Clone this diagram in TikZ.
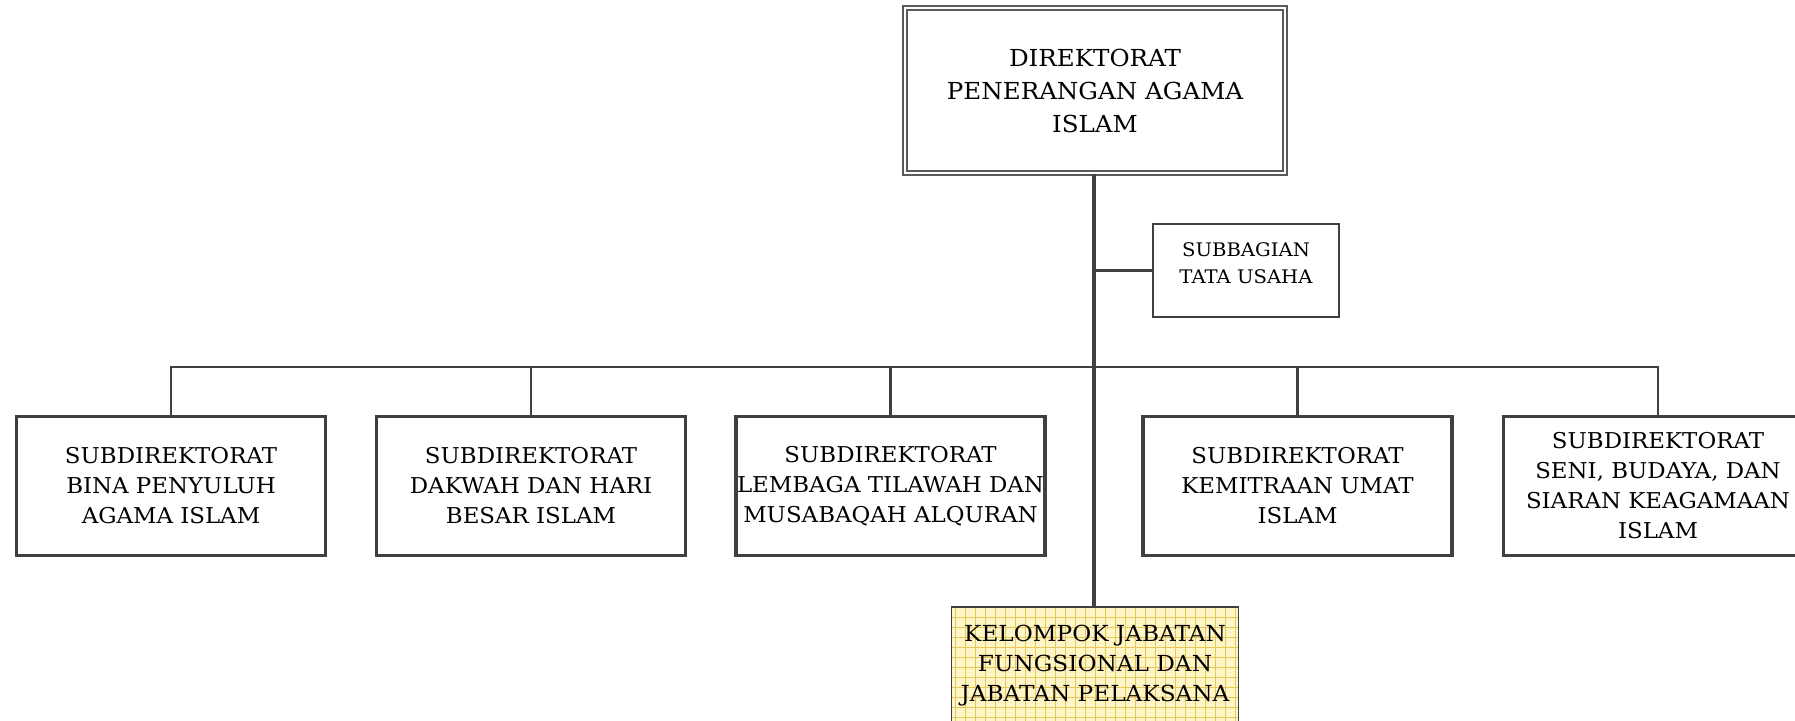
\documentclass[tikz,border=0pt]{standalone}
\usepackage{fontspec}
\setmainfont{DejaVu Serif}[FakeStretch=1.05]
\definecolor{linec}{HTML}{404040}
\definecolor{dblc}{HTML}{5A5A5A}
\definecolor{gridfill}{HTML}{FFF6C8}
\definecolor{gridline}{HTML}{E8C658}
\tikzset{
  subbox/.style={draw=linec, line width=3.2pt, fill=white, minimum width=309pt, minimum height=139pt, align=center, inner sep=0pt,
    font=\fontsize{21.8}{30}\selectfont},
  topbox/.style={draw=dblc, line width=1.3pt, double=white, double distance=2.6pt, fill=white, minimum width=380pt, minimum height=165pt, inner sep=0pt},
  smallbox/.style={draw=linec, line width=2.4pt, fill=white, minimum width=186pt, minimum height=93pt, inner sep=0pt},
  gridbox/.style={draw=linec, line width=1.6pt, fill=gridfill, minimum width=287pt, minimum height=140pt, inner sep=0pt,
    path picture={\draw[gridline, line width=1pt] (path picture bounding box.south west) grid[step=10pt] (path picture bounding box.north east);}},
  conn/.style={draw=linec, line width=2.3pt},
  mainconn/.style={draw=linec, line width=3.2pt},
}
\begin{document}
\begin{tikzpicture}[x=1pt, y=-1pt]
\useasboundingbox (0,0) rectangle (1795,720);
\clip (0,0) rectangle (1795,720);
\coordinate (busL) at (171,367);
\coordinate (busR) at (1658,367);
\coordinate (mv) at (1094,367);
% boxes
\node[topbox] (top) at (1095,90.5) {};
\node[font=\fontsize{23.4}{33}\selectfont, align=center] (toptext) at (1095,90.5) {DIREKTORAT\\PENERANGAN AGAMA\\ISLAM};
\node[smallbox] (sub) at (1246,270.5) {};
\node[font=\fontsize{18.7}{27}\selectfont, align=center] (subtext) at (1246,263.5) {SUBBAGIAN\\TATA USAHA};
\node[gridbox] (kel) at (1095,677) {};
\node[font=\fontsize{22.1}{30}\selectfont, align=center] (keltext) at (1095,666) {KELOMPOK JABATAN\\FUNGSIONAL DAN\\JABATAN PELAKSANA};
\draw[mainconn] (top.south -| mv) -- (kel.north -| mv);
\draw[conn] (sub.west) -- (sub.west -| mv);
\node[subbox] (b1) at (171,486) {SUBDIREKTORAT\\BINA PENYULUH\\AGAMA ISLAM};
\node[subbox] (b2) at (531,486) {SUBDIREKTORAT\\DAKWAH DAN HARI\\BESAR ISLAM};
\node[subbox] (b3) at (890.5,486) {SUBDIREKTORAT\\LEMBAGA TILAWAH DAN\\MUSABAQAH ALQURAN};
\node[subbox] (b4) at (1297.5,486) {SUBDIREKTORAT\\KEMITRAAN UMAT\\ISLAM};
\node[subbox] (b5) at (1658,486) {SUBDIREKTORAT\\SENI, BUDAYA, DAN\\SIARAN KEAGAMAAN\\ISLAM};
\draw[conn] (b1.north) -- (b1.north |- busL) -- (busR) -- (b5.north);
\draw[conn] (b2.north) -- (b2.north |- busL);
\draw[conn] (b3.north) -- (b3.north |- busL);
\draw[conn] (b4.north) -- (b4.north |- busL);
\end{tikzpicture}
\end{document}
